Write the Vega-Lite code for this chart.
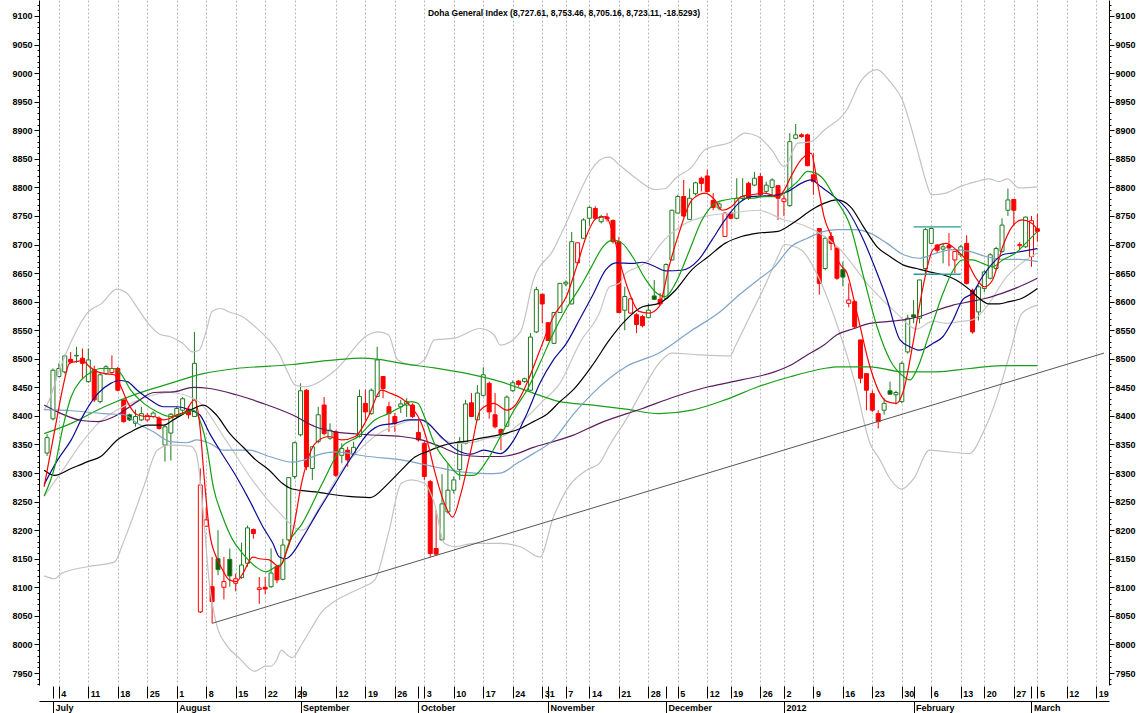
{
"$schema": "https://vega.github.io/schema/vega-lite/v6.json",
"width": 1070, "height": 685,
"autosize": {"type": "none"},
"padding": {"left": 39, "top": 0, "right": 35, "bottom": 28},
"background": "white",
"config": {"view": {"stroke": null}, "font": "Liberation Sans, Arial, sans-serif"},
"title": {"text": "Doha General Index (8,727.61, 8,753.46, 8,705.16, 8,723.11, -18.5293)", "anchor": "middle", "frame": "group", "baseline": "top", "offset": -17, "dx": -10, "fontSize": 8.5, "fontWeight": "bold", "font": "Liberation Sans, Arial, sans-serif", "color": "#000"},
"datasets": {
"candles": [
{"t":0,"o":8335,"h":8368,"l":8330,"c":8362},{"t":1,"o":8395,"h":8483,"l":8392,"c":8480},{"t":2,"o":8469,"h":8492,"l":8468,"c":8483},{"t":3,"o":8477,"h":8507,"l":8474,"c":8505},{"t":4,"o":8499,"h":8512,"l":8492,"c":8494},{"t":5,"o":8505,"h":8521,"l":8493,"c":8506},{"t":6,"o":8501,"h":8518,"l":8464,"c":8492},{"t":7,"o":8460,"h":8518,"l":8458,"c":8498},{"t":8,"o":8481,"h":8488,"l":8424,"c":8428},{"t":9,"o":8425,"h":8475,"l":8422,"c":8472},
{"t":10,"o":8474,"h":8489,"l":8472,"c":8486},{"t":11,"o":8476,"h":8506,"l":8474,"c":8483},{"t":12,"o":8483,"h":8486,"l":8443,"c":8445},{"t":13,"o":8428,"h":8428,"l":8388,"c":8390},{"t":14,"o":8402,"h":8404,"l":8391,"c":8393},{"t":15,"o":8387,"h":8411,"l":8381,"c":8399},{"t":16,"o":8393,"h":8416,"l":8391,"c":8404},{"t":17,"o":8393,"h":8405,"l":8390,"c":8401},{"t":18,"o":8399,"h":8408,"l":8396,"c":8405},{"t":19,"o":8396,"h":8399,"l":8376,"c":8378},
{"t":20,"o":8349,"h":8385,"l":8320,"c":8381},{"t":21,"o":8370,"h":8405,"l":8322,"c":8403},{"t":22,"o":8399,"h":8416,"l":8397,"c":8413},{"t":23,"o":8410,"h":8433,"l":8404,"c":8430},{"t":24,"o":8412,"h":8417,"l":8395,"c":8402},{"t":25,"o":8399,"h":8547,"l":8398,"c":8492},{"t":26,"o":8057,"h":8308,"l":8055,"c":8279},{"t":27,"o":8207,"h":8241,"l":8206,"c":8218},{"t":28,"o":8101,"h":8153,"l":8037,"c":8075},{"t":29,"o":8150,"h":8200,"l":8121,"c":8131},
{"t":30,"o":8100,"h":8153,"l":8079,"c":8110},{"t":31,"o":8149,"h":8168,"l":8101,"c":8120},{"t":32,"o":8107,"h":8124,"l":8093,"c":8115},{"t":33,"o":8117,"h":8178,"l":8115,"c":8139},{"t":34,"o":8142,"h":8208,"l":8136,"c":8204},{"t":35,"o":8201,"h":8203,"l":8185,"c":8194},{"t":36,"o":8096,"h":8118,"l":8071,"c":8099},{"t":37,"o":8100,"h":8118,"l":8088,"c":8097},{"t":38,"o":8101,"h":8168,"l":8099,"c":8125},{"t":39,"o":8136,"h":8139,"l":8107,"c":8113},
{"t":40,"o":8114,"h":8185,"l":8112,"c":8174},{"t":41,"o":8183,"h":8293,"l":8180,"c":8292},{"t":42,"o":8294,"h":8355,"l":8290,"c":8353},{"t":43,"o":8367,"h":8457,"l":8364,"c":8444},{"t":44,"o":8445,"h":8447,"l":8305,"c":8311},{"t":45,"o":8308,"h":8346,"l":8288,"c":8346},{"t":46,"o":8355,"h":8416,"l":8352,"c":8402},{"t":47,"o":8419,"h":8433,"l":8366,"c":8369},{"t":48,"o":8361,"h":8387,"l":8358,"c":8375},{"t":49,"o":8372,"h":8375,"l":8293,"c":8296},
{"t":50,"o":8331,"h":8352,"l":8317,"c":8343},{"t":51,"o":8340,"h":8346,"l":8311,"c":8323},{"t":52,"o":8333,"h":8355,"l":8330,"c":8345},{"t":53,"o":8364,"h":8446,"l":8362,"c":8434},{"t":54,"o":8422,"h":8446,"l":8392,"c":8407},{"t":55,"o":8404,"h":8448,"l":8402,"c":8445},{"t":56,"o":8434,"h":8521,"l":8434,"c":8498},{"t":57,"o":8469,"h":8469,"l":8431,"c":8448},{"t":58,"o":8416,"h":8425,"l":8372,"c":8404},{"t":59,"o":8399,"h":8405,"l":8372,"c":8387},
{"t":60,"o":8416,"h":8428,"l":8405,"c":8421},{"t":61,"o":8419,"h":8431,"l":8398,"c":8425},{"t":62,"o":8419,"h":8422,"l":8396,"c":8399},{"t":63,"o":8371,"h":8393,"l":8355,"c":8358},{"t":64,"o":8352,"h":8355,"l":8288,"c":8294},{"t":65,"o":8285,"h":8288,"l":8153,"c":8159},{"t":66,"o":8168,"h":8235,"l":8156,"c":8158},{"t":67,"o":8183,"h":8298,"l":8182,"c":8246},{"t":68,"o":8232,"h":8317,"l":8229,"c":8270},{"t":69,"o":8270,"h":8294,"l":8264,"c":8288},
{"t":70,"o":8306,"h":8363,"l":8288,"c":8355},{"t":71,"o":8352,"h":8428,"l":8350,"c":8421},{"t":72,"o":8423,"h":8440,"l":8399,"c":8399},{"t":73,"o":8393,"h":8454,"l":8393,"c":8440},{"t":74,"o":8436,"h":8485,"l":8434,"c":8472},{"t":75,"o":8457,"h":8460,"l":8395,"c":8407},{"t":76,"o":8402,"h":8440,"l":8378,"c":8381},{"t":77,"o":8376,"h":8378,"l":8340,"c":8369},{"t":78,"o":8382,"h":8436,"l":8381,"c":8433},{"t":79,"o":8444,"h":8462,"l":8442,"c":8458},
{"t":80,"o":8461,"h":8463,"l":8451,"c":8455},{"t":81,"o":8460,"h":8467,"l":8458,"c":8465},{"t":82,"o":8445,"h":8545,"l":8444,"c":8538},{"t":83,"o":8547,"h":8626,"l":8545,"c":8621},{"t":84,"o":8613,"h":8613,"l":8562,"c":8596},{"t":85,"o":8563,"h":8564,"l":8531,"c":8532},{"t":86,"o":8527,"h":8582,"l":8526,"c":8581},{"t":87,"o":8581,"h":8633,"l":8580,"c":8632},{"t":88,"o":8631,"h":8637,"l":8627,"c":8634},{"t":89,"o":8596,"h":8722,"l":8595,"c":8705},
{"t":90,"o":8668,"h":8703,"l":8667,"c":8703},{"t":91,"o":8711,"h":8746,"l":8710,"c":8743},{"t":92,"o":8746,"h":8767,"l":8733,"c":8765},{"t":93,"o":8763,"h":8767,"l":8743,"c":8746},{"t":94,"o":8740,"h":8752,"l":8737,"c":8749},{"t":95,"o":8748,"h":8755,"l":8740,"c":8745},{"t":96,"o":8742,"h":8744,"l":8702,"c":8705},{"t":97,"o":8705,"h":8713,"l":8580,"c":8581},{"t":98,"o":8585,"h":8626,"l":8550,"c":8609},{"t":99,"o":8580,"h":8606,"l":8579,"c":8605},
{"t":100,"o":8577,"h":8580,"l":8545,"c":8560},{"t":101,"o":8574,"h":8577,"l":8555,"c":8558},{"t":102,"o":8572,"h":8597,"l":8571,"c":8585},{"t":103,"o":8610,"h":8638,"l":8603,"c":8604},{"t":104,"o":8604,"h":8615,"l":8593,"c":8596},{"t":105,"o":8606,"h":8667,"l":8604,"c":8665},{"t":106,"o":8673,"h":8761,"l":8672,"c":8760},{"t":107,"o":8755,"h":8787,"l":8755,"c":8784},{"t":108,"o":8784,"h":8813,"l":8748,"c":8750},{"t":109,"o":8744,"h":8798,"l":8743,"c":8781},
{"t":110,"o":8789,"h":8810,"l":8786,"c":8808},{"t":111,"o":8816,"h":8819,"l":8793,"c":8807},{"t":112,"o":8820,"h":8831,"l":8791,"c":8793},{"t":113,"o":8777,"h":8790,"l":8760,"c":8765},{"t":114,"o":8764,"h":8774,"l":8760,"c":8771},{"t":115,"o":8714,"h":8756,"l":8713,"c":8755},{"t":116,"o":8755,"h":8758,"l":8744,"c":8746},{"t":117,"o":8746,"h":8816,"l":8744,"c":8781},{"t":118,"o":8781,"h":8816,"l":8778,"c":8784},{"t":119,"o":8807,"h":8810,"l":8778,"c":8781},
{"t":120,"o":8804,"h":8827,"l":8802,"c":8816},{"t":121,"o":8819,"h":8825,"l":8784,"c":8787},{"t":122,"o":8793,"h":8810,"l":8790,"c":8804},{"t":123,"o":8800,"h":8816,"l":8784,"c":8813},{"t":124,"o":8803,"h":8804,"l":8743,"c":8781},{"t":125,"o":8775,"h":8787,"l":8750,"c":8780},{"t":126,"o":8768,"h":8895,"l":8766,"c":8880},{"t":127,"o":8886,"h":8911,"l":8884,"c":8892},{"t":128,"o":8892,"h":8895,"l":8887,"c":8889},{"t":129,"o":8892,"h":8894,"l":8837,"c":8838},
{"t":130,"o":8822,"h":8860,"l":8787,"c":8810},{"t":131,"o":8728,"h":8728,"l":8612,"c":8632},{"t":132,"o":8658,"h":8714,"l":8655,"c":8711},{"t":133,"o":8714,"h":8722,"l":8690,"c":8702},{"t":134,"o":8693,"h":8696,"l":8638,"c":8641},{"t":135,"o":8656,"h":8670,"l":8627,"c":8643},{"t":136,"o":8597,"h":8632,"l":8590,"c":8603},{"t":137,"o":8600,"h":8603,"l":8553,"c":8556},{"t":138,"o":8533,"h":8533,"l":8457,"c":8466},{"t":139,"o":8474,"h":8474,"l":8410,"c":8445},
{"t":140,"o":8439,"h":8445,"l":8407,"c":8410},{"t":141,"o":8404,"h":8410,"l":8378,"c":8390},{"t":142,"o":8410,"h":8431,"l":8402,"c":8422},{"t":143,"o":8444,"h":8460,"l":8437,"c":8438},{"t":144,"o":8437,"h":8444,"l":8420,"c":8441},{"t":145,"o":8425,"h":8495,"l":8422,"c":8492},{"t":146,"o":8512,"h":8577,"l":8509,"c":8571},{"t":147,"o":8577,"h":8603,"l":8562,"c":8573},{"t":148,"o":8571,"h":8638,"l":8562,"c":8638},{"t":149,"o":8658,"h":8729,"l":8646,"c":8726},
{"t":150,"o":8702,"h":8730,"l":8701,"c":8728},{"t":151,"o":8699,"h":8701,"l":8685,"c":8690},{"t":152,"o":8692,"h":8702,"l":8667,"c":8696},{"t":153,"o":8698,"h":8720,"l":8662,"c":8694},{"t":154,"o":8673,"h":8688,"l":8650,"c":8688},{"t":155,"o":8682,"h":8699,"l":8678,"c":8696},{"t":156,"o":8702,"h":8716,"l":8630,"c":8632},{"t":157,"o":8620,"h":8623,"l":8544,"c":8547},{"t":158,"o":8582,"h":8629,"l":8567,"c":8626},{"t":159,"o":8623,"h":8655,"l":8617,"c":8652},
{"t":160,"o":8641,"h":8685,"l":8639,"c":8682},{"t":161,"o":8658,"h":8696,"l":8655,"c":8693},{"t":162,"o":8688,"h":8746,"l":8685,"c":8734},{"t":163,"o":8760,"h":8798,"l":8750,"c":8778},{"t":164,"o":8779,"h":8779,"l":8734,"c":8760},{"t":165,"o":8698,"h":8704,"l":8692,"c":8700},{"t":166,"o":8696,"h":8749,"l":8694,"c":8748},{"t":167,"o":8679,"h":8750,"l":8661,"c":8741.64},{"t":168,"o":8727.61,"h":8753.46,"l":8705.16,"c":8723.11}
],
"lines": [
{"s":"bu","t":-0.5,"v":8410},{"s":"bu","t":0,"v":8419},{"s":"bu","t":2.3,"v":8486},{"s":"bu","t":4.5,"v":8539},{"s":"bu","t":7,"v":8582},{"s":"bu","t":9.3,"v":8597},{"s":"bu","t":11.8,"v":8622},{"s":"bu","t":13.5,"v":8615},{"s":"bu","t":15.2,"v":8591},{"s":"bu","t":17.4,"v":8559},{"s":"bu","t":19.1,"v":8543},{"s":"bu","t":20.8,"v":8539},{"s":"bu","t":23,"v":8527},{"s":"bu","t":24.7,"v":8512},{"s":"bu","t":25.8,"v":8515},{"s":"bu","t":26.9,"v":8545},{"s":"bu","t":28,"v":8583},{"s":"bu","t":29.5,"v":8588},{"s":"bu","t":30.9,"v":8582},{"s":"bu","t":33.1,"v":8574},{"s":"bu","t":35.3,"v":8556},{"s":"bu","t":37.6,"v":8533},{"s":"bu","t":39.3,"v":8510},{"s":"bu","t":40.9,"v":8475},{"s":"bu","t":42.1,"v":8454},{"s":"bu","t":43.7,"v":8451},{"s":"bu","t":48.9,"v":8480},{"s":"bu","t":54.5,"v":8542},{"s":"bu","t":56.2,"v":8547},{"s":"bu","t":57.9,"v":8542},{"s":"bu","t":59.5,"v":8498},{"s":"bu","t":62.3,"v":8489},{"s":"bu","t":64,"v":8498},{"s":"bu","t":65.7,"v":8533},{"s":"bu","t":69.1,"v":8536},{"s":"bu","t":73.5,"v":8553},{"s":"bu","t":75.8,"v":8542},{"s":"bu","t":76.9,"v":8524},{"s":"bu","t":80.3,"v":8547},{"s":"bu","t":82.5,"v":8638},{"s":"bu","t":85.9,"v":8691},{"s":"bu","t":87,"v":8714},{"s":"bu","t":94.3,"v":8851},{"s":"bu","t":95.4,"v":8853},{"s":"bu","t":97.1,"v":8839},{"s":"bu","t":99.9,"v":8816},{"s":"bu","t":103.2,"v":8796},{"s":"bu","t":104.9,"v":8798},{"s":"bu","t":106.6,"v":8816},{"s":"bu","t":109.4,"v":8836},{"s":"bu","t":111.6,"v":8866},{"s":"bu","t":116.1,"v":8880},{"s":"bu","t":118.4,"v":8895},{"s":"bu","t":120.6,"v":8889},{"s":"bu","t":122.9,"v":8866},{"s":"bu","t":125.1,"v":8836},{"s":"bu","t":127.3,"v":8877},{"s":"bu","t":129.6,"v":8880},{"s":"bu","t":131.8,"v":8900},{"s":"bu","t":135.7,"v":8936},{"s":"bu","t":138,"v":8985},{"s":"bu","t":140.8,"v":9006},{"s":"bu","t":143,"v":8985},{"s":"bu","t":145,"v":8955},{"s":"bu","t":147.5,"v":8871},{"s":"bu","t":149.2,"v":8807},{"s":"bu","t":150,"v":8787},{"s":"bu","t":152.5,"v":8790},{"s":"bu","t":154.8,"v":8801},{"s":"bu","t":157.6,"v":8810},{"s":"bu","t":159.8,"v":8815},{"s":"bu","t":161.5,"v":8810},{"s":"bu","t":162.9,"v":8815},{"s":"bu","t":164.9,"v":8799},{"s":"bu","t":168,"v":8801},
{"s":"bl","t":-0.5,"v":8120},{"s":"bl","t":1.3,"v":8115},{"s":"bl","t":2.4,"v":8124},{"s":"bl","t":6.8,"v":8136},{"s":"bl","t":11.4,"v":8144},{"s":"bl","t":13.1,"v":8183},{"s":"bl","t":16.4,"v":8276},{"s":"bl","t":18.7,"v":8340},{"s":"bl","t":20.9,"v":8349},{"s":"bl","t":24.3,"v":8347},{"s":"bl","t":25.3,"v":8335},{"s":"bl","t":26.5,"v":8230},{"s":"bl","t":27.5,"v":8110},{"s":"bl","t":28.7,"v":8037},{"s":"bl","t":30.5,"v":7998},{"s":"bl","t":32.7,"v":7975},{"s":"bl","t":35.2,"v":7953},{"s":"bl","t":37.1,"v":7962},{"s":"bl","t":38,"v":7962},{"s":"bl","t":38.8,"v":7970},{"s":"bl","t":39.8,"v":7990},{"s":"bl","t":40.8,"v":7981},{"s":"bl","t":41.6,"v":7977},{"s":"bl","t":43.3,"v":8002},{"s":"bl","t":45,"v":8031},{"s":"bl","t":46.6,"v":8057},{"s":"bl","t":48.3,"v":8072},{"s":"bl","t":51,"v":8088},{"s":"bl","t":53.5,"v":8100},{"s":"bl","t":55.6,"v":8113},{"s":"bl","t":57.9,"v":8194},{"s":"bl","t":60.1,"v":8282},{"s":"bl","t":61.8,"v":8288},{"s":"bl","t":64,"v":8282},{"s":"bl","t":65.7,"v":8247},{"s":"bl","t":67.4,"v":8177},{"s":"bl","t":69.1,"v":8171},{"s":"bl","t":72.4,"v":8177},{"s":"bl","t":76.9,"v":8177},{"s":"bl","t":80.3,"v":8171},{"s":"bl","t":83.6,"v":8153},{"s":"bl","t":85.9,"v":8223},{"s":"bl","t":88.1,"v":8270},{"s":"bl","t":91.5,"v":8305},{"s":"bl","t":93.7,"v":8317},{"s":"bl","t":95.5,"v":8350},{"s":"bl","t":98.2,"v":8393},{"s":"bl","t":101,"v":8445},{"s":"bl","t":103.8,"v":8492},{"s":"bl","t":106,"v":8510},{"s":"bl","t":110.5,"v":8507},{"s":"bl","t":115.9,"v":8505},{"s":"bl","t":116.7,"v":8521},{"s":"bl","t":119.5,"v":8580},{"s":"bl","t":121.7,"v":8626},{"s":"bl","t":124,"v":8679},{"s":"bl","t":125.1,"v":8700},{"s":"bl","t":128,"v":8690},{"s":"bl","t":131,"v":8640},{"s":"bl","t":134,"v":8560},{"s":"bl","t":137,"v":8460},{"s":"bl","t":139.6,"v":8352},{"s":"bl","t":141.3,"v":8323},{"s":"bl","t":143,"v":8290},{"s":"bl","t":145,"v":8272},{"s":"bl","t":147,"v":8290},{"s":"bl","t":149.7,"v":8340},{"s":"bl","t":152,"v":8338},{"s":"bl","t":156.5,"v":8334},{"s":"bl","t":158.7,"v":8369},{"s":"bl","t":161,"v":8428},{"s":"bl","t":163.2,"v":8504},{"s":"bl","t":165.4,"v":8580},{"s":"bl","t":168,"v":8594},
{"s":"bm","t":-0.5,"v":8259},{"s":"bm","t":3,"v":8310},{"s":"bm","t":6,"v":8355},{"s":"bm","t":9,"v":8390},{"s":"bm","t":11.8,"v":8410},{"s":"bm","t":16,"v":8430},{"s":"bm","t":20.8,"v":8441},{"s":"bm","t":25.3,"v":8428},{"s":"bm","t":30.3,"v":8358},{"s":"bm","t":34.8,"v":8288},{"s":"bm","t":39,"v":8235},{"s":"bm","t":43.3,"v":8200},{"s":"bm","t":46.6,"v":8247},{"s":"bm","t":50,"v":8305},{"s":"bm","t":53.4,"v":8345},{"s":"bm","t":56.7,"v":8372},{"s":"bm","t":60.1,"v":8387},{"s":"bm","t":62.3,"v":8393},{"s":"bm","t":64,"v":8393},{"s":"bm","t":65.7,"v":8375},{"s":"bm","t":67.3,"v":8358},{"s":"bm","t":69.7,"v":8352},{"s":"bm","t":72.4,"v":8354},{"s":"bm","t":74.7,"v":8361},{"s":"bm","t":76.9,"v":8363},{"s":"bm","t":80,"v":8385},{"s":"bm","t":84,"v":8425},{"s":"bm","t":87,"v":8457},{"s":"bm","t":90.5,"v":8530},{"s":"bm","t":93.7,"v":8580},{"s":"bm","t":95.4,"v":8626},{"s":"bm","t":97.1,"v":8632},{"s":"bm","t":98.2,"v":8650},{"s":"bm","t":100.4,"v":8661},{"s":"bm","t":102.1,"v":8673},{"s":"bm","t":104,"v":8700},{"s":"bm","t":108,"v":8735},{"s":"bm","t":112,"v":8750},{"s":"bm","t":116,"v":8755},{"s":"bm","t":120.6,"v":8760},{"s":"bm","t":125.1,"v":8743},{"s":"bm","t":128,"v":8735},{"s":"bm","t":131,"v":8720},{"s":"bm","t":134,"v":8697},{"s":"bm","t":139.6,"v":8626},{"s":"bm","t":144.1,"v":8580},{"s":"bm","t":147.5,"v":8552},{"s":"bm","t":150.3,"v":8566},{"s":"bm","t":152.5,"v":8562},{"s":"bm","t":154.8,"v":8565},{"s":"bm","t":157,"v":8568},{"s":"bm","t":159.8,"v":8597},{"s":"bm","t":162.5,"v":8640},{"s":"bm","t":165.4,"v":8668},{"s":"bm","t":168,"v":8685},
{"s":"m200","t":-0.5,"v":8369},{"s":"m200","t":4.1,"v":8387},{"s":"m200","t":9.7,"v":8416},{"s":"m200","t":15.3,"v":8439},{"s":"m200","t":20.9,"v":8457},{"s":"m200","t":26.5,"v":8474},{"s":"m200","t":32.1,"v":8483},{"s":"m200","t":37.7,"v":8487},{"s":"m200","t":41.6,"v":8490},{"s":"m200","t":43.3,"v":8492},{"s":"m200","t":48.9,"v":8498},{"s":"m200","t":53.4,"v":8501},{"s":"m200","t":56.2,"v":8499},{"s":"m200","t":60.1,"v":8492},{"s":"m200","t":65.7,"v":8484},{"s":"m200","t":71.3,"v":8474},{"s":"m200","t":76.9,"v":8460},{"s":"m200","t":82.5,"v":8440},{"s":"m200","t":87,"v":8425},{"s":"m200","t":92.6,"v":8419},{"s":"m200","t":98.2,"v":8412},{"s":"m200","t":103.8,"v":8404},{"s":"m200","t":109.4,"v":8410},{"s":"m200","t":115,"v":8428},{"s":"m200","t":120.6,"v":8451},{"s":"m200","t":126.2,"v":8469},{"s":"m200","t":131.8,"v":8483},{"s":"m200","t":134,"v":8486},{"s":"m200","t":139.6,"v":8486},{"s":"m200","t":145.3,"v":8477},{"s":"m200","t":150.9,"v":8477},{"s":"m200","t":156.5,"v":8483},{"s":"m200","t":162.1,"v":8488},{"s":"m200","t":168,"v":8488},
{"s":"m100","t":-0.5,"v":8419},{"s":"m100","t":2.4,"v":8404},{"s":"m100","t":5.8,"v":8392},{"s":"m100","t":8.6,"v":8390},{"s":"m100","t":11.4,"v":8399},{"s":"m100","t":15.3,"v":8425},{"s":"m100","t":18.1,"v":8441},{"s":"m100","t":21.4,"v":8442},{"s":"m100","t":24.8,"v":8450},{"s":"m100","t":27.6,"v":8448},{"s":"m100","t":32.1,"v":8437},{"s":"m100","t":36.6,"v":8422},{"s":"m100","t":41.6,"v":8402},{"s":"m100","t":45.5,"v":8381},{"s":"m100","t":48.9,"v":8372},{"s":"m100","t":54.5,"v":8367},{"s":"m100","t":60.1,"v":8364},{"s":"m100","t":63.5,"v":8358},{"s":"m100","t":66.8,"v":8346},{"s":"m100","t":70.2,"v":8332},{"s":"m100","t":73.6,"v":8329},{"s":"m100","t":76.9,"v":8329},{"s":"m100","t":79.7,"v":8334},{"s":"m100","t":82.5,"v":8345},{"s":"m100","t":85.9,"v":8355},{"s":"m100","t":89.2,"v":8366},{"s":"m100","t":93.7,"v":8387},{"s":"m100","t":101,"v":8413},{"s":"m100","t":106.6,"v":8434},{"s":"m100","t":112.2,"v":8451},{"s":"m100","t":117.8,"v":8463},{"s":"m100","t":123.4,"v":8477},{"s":"m100","t":126.2,"v":8489},{"s":"m100","t":129,"v":8507},{"s":"m100","t":131.8,"v":8524},{"s":"m100","t":134,"v":8542},{"s":"m100","t":136.9,"v":8553},{"s":"m100","t":139.6,"v":8562},{"s":"m100","t":142.5,"v":8565},{"s":"m100","t":145.3,"v":8568},{"s":"m100","t":148,"v":8574},{"s":"m100","t":150.9,"v":8585},{"s":"m100","t":153.7,"v":8594},{"s":"m100","t":156.5,"v":8600},{"s":"m100","t":159.3,"v":8606},{"s":"m100","t":162.1,"v":8615},{"s":"m100","t":164.9,"v":8626},{"s":"m100","t":168,"v":8641},
{"s":"m50","t":-0.5,"v":8411},{"s":"m50","t":4.1,"v":8409},{"s":"m50","t":9.7,"v":8404},{"s":"m50","t":13.1,"v":8402},{"s":"m50","t":15.3,"v":8387},{"s":"m50","t":18.1,"v":8372},{"s":"m50","t":20.9,"v":8355},{"s":"m50","t":23.7,"v":8353},{"s":"m50","t":25.4,"v":8358},{"s":"m50","t":27.6,"v":8352},{"s":"m50","t":29.9,"v":8340},{"s":"m50","t":34.3,"v":8340},{"s":"m50","t":37.7,"v":8329},{"s":"m50","t":41.6,"v":8319},{"s":"m50","t":43.3,"v":8322},{"s":"m50","t":46.7,"v":8334},{"s":"m50","t":48.9,"v":8337},{"s":"m50","t":54.5,"v":8329},{"s":"m50","t":60.1,"v":8323},{"s":"m50","t":65.7,"v":8311},{"s":"m50","t":70.2,"v":8302},{"s":"m50","t":74.7,"v":8299},{"s":"m50","t":76.9,"v":8300},{"s":"m50","t":79.7,"v":8317},{"s":"m50","t":82.5,"v":8334},{"s":"m50","t":85.9,"v":8358},{"s":"m50","t":89.2,"v":8402},{"s":"m50","t":92.6,"v":8440},{"s":"m50","t":98.2,"v":8486},{"s":"m50","t":103.8,"v":8510},{"s":"m50","t":109.4,"v":8550},{"s":"m50","t":113.9,"v":8580},{"s":"m50","t":117.8,"v":8615},{"s":"m50","t":120.6,"v":8638},{"s":"m50","t":123.4,"v":8661},{"s":"m50","t":126.2,"v":8696},{"s":"m50","t":129,"v":8711},{"s":"m50","t":131.8,"v":8723},{"s":"m50","t":134,"v":8726},{"s":"m50","t":136.9,"v":8726},{"s":"m50","t":139.6,"v":8720},{"s":"m50","t":142.5,"v":8702},{"s":"m50","t":145.3,"v":8682},{"s":"m50","t":148,"v":8676},{"s":"m50","t":150.9,"v":8685},{"s":"m50","t":153.7,"v":8691},{"s":"m50","t":156.5,"v":8688},{"s":"m50","t":159.3,"v":8679},{"s":"m50","t":162.1,"v":8674},{"s":"m50","t":164.9,"v":8674},{"s":"m50","t":168,"v":8670},
{"s":"m30","t":-0.5,"v":8305},{"s":"m30","t":1.3,"v":8296},{"s":"m30","t":4.1,"v":8308},{"s":"m30","t":6.9,"v":8320},{"s":"m30","t":9.1,"v":8329},{"s":"m30","t":11.9,"v":8358},{"s":"m30","t":14.2,"v":8372},{"s":"m30","t":17,"v":8384},{"s":"m30","t":19.8,"v":8384},{"s":"m30","t":21.4,"v":8393},{"s":"m30","t":24.3,"v":8410},{"s":"m30","t":26.5,"v":8419},{"s":"m30","t":28.7,"v":8402},{"s":"m30","t":31,"v":8369},{"s":"m30","t":33.2,"v":8346},{"s":"m30","t":35.4,"v":8323},{"s":"m30","t":37.7,"v":8305},{"s":"m30","t":39.9,"v":8282},{"s":"m30","t":41.6,"v":8272},{"s":"m30","t":45.5,"v":8267},{"s":"m30","t":51.1,"v":8259},{"s":"m30","t":54.8,"v":8257},{"s":"m30","t":57.9,"v":8282},{"s":"m30","t":60.1,"v":8305},{"s":"m30","t":62.4,"v":8328},{"s":"m30","t":64.6,"v":8338},{"s":"m30","t":66.8,"v":8347},{"s":"m30","t":69.1,"v":8353},{"s":"m30","t":71.3,"v":8356},{"s":"m30","t":73.6,"v":8361},{"s":"m30","t":75.8,"v":8365},{"s":"m30","t":78,"v":8370},{"s":"m30","t":80.3,"v":8378},{"s":"m30","t":82.5,"v":8390},{"s":"m30","t":84.8,"v":8403},{"s":"m30","t":87,"v":8425},{"s":"m30","t":89.2,"v":8445},{"s":"m30","t":92.6,"v":8490},{"s":"m30","t":95.4,"v":8533},{"s":"m30","t":98.2,"v":8568},{"s":"m30","t":101,"v":8591},{"s":"m30","t":103.8,"v":8597},{"s":"m30","t":106.6,"v":8620},{"s":"m30","t":109.4,"v":8656},{"s":"m30","t":112.2,"v":8679},{"s":"m30","t":115,"v":8702},{"s":"m30","t":117.8,"v":8714},{"s":"m30","t":120.6,"v":8720},{"s":"m30","t":124,"v":8723},{"s":"m30","t":125.1,"v":8728},{"s":"m30","t":127.3,"v":8743},{"s":"m30","t":129.6,"v":8760},{"s":"m30","t":131.8,"v":8772},{"s":"m30","t":134,"v":8778},{"s":"m30","t":136.3,"v":8766},{"s":"m30","t":138.5,"v":8731},{"s":"m30","t":140.8,"v":8696},{"s":"m30","t":143,"v":8679},{"s":"m30","t":145.3,"v":8664},{"s":"m30","t":147.5,"v":8658},{"s":"m30","t":149.7,"v":8652},{"s":"m30","t":152,"v":8647},{"s":"m30","t":154.2,"v":8638},{"s":"m30","t":156.5,"v":8621},{"s":"m30","t":158.1,"v":8606},{"s":"m30","t":159.8,"v":8596},{"s":"m30","t":161.5,"v":8596},{"s":"m30","t":163.2,"v":8600},{"s":"m30","t":165.4,"v":8606},{"s":"m30","t":168,"v":8623},
{"s":"m20","t":-0.5,"v":8280},{"s":"m20","t":1.8,"v":8323},{"s":"m20","t":4.1,"v":8358},{"s":"m20","t":6.3,"v":8404},{"s":"m20","t":8.6,"v":8439},{"s":"m20","t":10.8,"v":8457},{"s":"m20","t":12.2,"v":8462},{"s":"m20","t":13.6,"v":8460},{"s":"m20","t":15.3,"v":8445},{"s":"m20","t":17.5,"v":8428},{"s":"m20","t":19.8,"v":8416},{"s":"m20","t":22,"v":8416},{"s":"m20","t":24.3,"v":8410},{"s":"m20","t":25.9,"v":8402},{"s":"m20","t":27.6,"v":8369},{"s":"m20","t":29.3,"v":8340},{"s":"m20","t":32.1,"v":8294},{"s":"m20","t":34.3,"v":8253},{"s":"m20","t":36.6,"v":8206},{"s":"m20","t":38.3,"v":8177},{"s":"m20","t":39.4,"v":8153},{"s":"m20","t":40.5,"v":8150},{"s":"m20","t":41.6,"v":8159},{"s":"m20","t":43.3,"v":8186},{"s":"m20","t":46.1,"v":8235},{"s":"m20","t":48.9,"v":8282},{"s":"m20","t":51.7,"v":8329},{"s":"m20","t":54.5,"v":8370},{"s":"m20","t":56.7,"v":8384},{"s":"m20","t":59,"v":8387},{"s":"m20","t":61.2,"v":8393},{"s":"m20","t":63.5,"v":8393},{"s":"m20","t":64.6,"v":8387},{"s":"m20","t":66.8,"v":8364},{"s":"m20","t":69.6,"v":8340},{"s":"m20","t":71.9,"v":8333},{"s":"m20","t":74.1,"v":8340},{"s":"m20","t":76.9,"v":8334},{"s":"m20","t":79.2,"v":8358},{"s":"m20","t":81.4,"v":8404},{"s":"m20","t":83.6,"v":8457},{"s":"m20","t":85.9,"v":8498},{"s":"m20","t":88.1,"v":8527},{"s":"m20","t":90.4,"v":8570},{"s":"m20","t":92.6,"v":8612},{"s":"m20","t":94.8,"v":8656},{"s":"m20","t":96.5,"v":8668},{"s":"m20","t":99.3,"v":8667},{"s":"m20","t":101,"v":8669},{"s":"m20","t":103.2,"v":8661},{"s":"m20","t":104.9,"v":8654},{"s":"m20","t":107.7,"v":8655},{"s":"m20","t":110.5,"v":8673},{"s":"m20","t":112.8,"v":8708},{"s":"m20","t":115,"v":8743},{"s":"m20","t":117.3,"v":8772},{"s":"m20","t":119.5,"v":8784},{"s":"m20","t":121.7,"v":8785},{"s":"m20","t":124,"v":8787},{"s":"m20","t":125.7,"v":8793},{"s":"m20","t":127.9,"v":8807},{"s":"m20","t":129.6,"v":8813},{"s":"m20","t":131.3,"v":8801},{"s":"m20","t":133.5,"v":8784},{"s":"m20","t":135.8,"v":8760},{"s":"m20","t":138.5,"v":8708},{"s":"m20","t":140.8,"v":8650},{"s":"m20","t":142.5,"v":8603},{"s":"m20","t":144.7,"v":8533},{"s":"m20","t":146.4,"v":8521},{"s":"m20","t":148,"v":8515},{"s":"m20","t":150.3,"v":8527},{"s":"m20","t":152,"v":8539},{"s":"m20","t":153.7,"v":8568},{"s":"m20","t":155.3,"v":8603},{"s":"m20","t":157,"v":8615},{"s":"m20","t":158.7,"v":8644},{"s":"m20","t":160.4,"v":8667},{"s":"m20","t":162.1,"v":8682},{"s":"m20","t":163.7,"v":8685},{"s":"m20","t":165.4,"v":8688},{"s":"m20","t":168,"v":8693},
{"s":"m10","t":-0.5,"v":8260},{"s":"m10","t":1.3,"v":8311},{"s":"m10","t":2.7,"v":8381},{"s":"m10","t":4.1,"v":8434},{"s":"m10","t":5.8,"v":8463},{"s":"m10","t":7.5,"v":8477},{"s":"m10","t":9.1,"v":8483},{"s":"m10","t":11.4,"v":8483},{"s":"m10","t":12.5,"v":8474},{"s":"m10","t":14.2,"v":8445},{"s":"m10","t":16.4,"v":8422},{"s":"m10","t":18.7,"v":8407},{"s":"m10","t":20.9,"v":8399},{"s":"m10","t":23.1,"v":8404},{"s":"m10","t":24.8,"v":8410},{"s":"m10","t":25.9,"v":8393},{"s":"m10","t":27,"v":8352},{"s":"m10","t":28.2,"v":8276},{"s":"m10","t":29.8,"v":8223},{"s":"m10","t":31.5,"v":8183},{"s":"m10","t":33.2,"v":8159},{"s":"m10","t":35.4,"v":8136},{"s":"m10","t":37.1,"v":8127},{"s":"m10","t":38.8,"v":8136},{"s":"m10","t":39.9,"v":8142},{"s":"m10","t":41,"v":8177},{"s":"m10","t":43.3,"v":8212},{"s":"m10","t":46.7,"v":8282},{"s":"m10","t":50,"v":8346},{"s":"m10","t":52.8,"v":8364},{"s":"m10","t":55.6,"v":8393},{"s":"m10","t":57.9,"v":8404},{"s":"m10","t":60.1,"v":8416},{"s":"m10","t":61.8,"v":8425},{"s":"m10","t":62.9,"v":8422},{"s":"m10","t":64,"v":8399},{"s":"m10","t":65.7,"v":8352},{"s":"m10","t":68,"v":8317},{"s":"m10","t":70.2,"v":8296},{"s":"m10","t":72.4,"v":8296},{"s":"m10","t":74.7,"v":8323},{"s":"m10","t":76.9,"v":8364},{"s":"m10","t":79.2,"v":8410},{"s":"m10","t":81.4,"v":8445},{"s":"m10","t":83.6,"v":8492},{"s":"m10","t":85.9,"v":8545},{"s":"m10","t":88.1,"v":8588},{"s":"m10","t":90.4,"v":8625},{"s":"m10","t":92.3,"v":8660},{"s":"m10","t":94.3,"v":8696},{"s":"m10","t":96,"v":8708},{"s":"m10","t":97.6,"v":8702},{"s":"m10","t":99.3,"v":8679},{"s":"m10","t":101.6,"v":8638},{"s":"m10","t":103.2,"v":8617},{"s":"m10","t":104.9,"v":8609},{"s":"m10","t":106.6,"v":8632},{"s":"m10","t":108.8,"v":8685},{"s":"m10","t":111.1,"v":8743},{"s":"m10","t":113.3,"v":8772},{"s":"m10","t":115,"v":8778},{"s":"m10","t":117.3,"v":8781},{"s":"m10","t":119.5,"v":8781},{"s":"m10","t":121.7,"v":8784},{"s":"m10","t":124,"v":8784},{"s":"m10","t":125.7,"v":8796},{"s":"m10","t":127.3,"v":8810},{"s":"m10","t":129,"v":8828},{"s":"m10","t":130.4,"v":8825},{"s":"m10","t":131.8,"v":8813},{"s":"m10","t":133.5,"v":8784},{"s":"m10","t":136.3,"v":8731},{"s":"m10","t":138.5,"v":8644},{"s":"m10","t":140.8,"v":8556},{"s":"m10","t":143,"v":8498},{"s":"m10","t":145.3,"v":8469},{"s":"m10","t":146.4,"v":8463},{"s":"m10","t":147.5,"v":8480},{"s":"m10","t":149.7,"v":8545},{"s":"m10","t":152,"v":8615},{"s":"m10","t":153.7,"v":8655},{"s":"m10","t":155.3,"v":8673},{"s":"m10","t":157,"v":8673},{"s":"m10","t":158.7,"v":8667},{"s":"m10","t":160.4,"v":8661},{"s":"m10","t":162.1,"v":8673},{"s":"m10","t":164.3,"v":8685},{"s":"m10","t":166,"v":8702},{"s":"m10","t":168,"v":8723},
{"s":"m5","t":-0.5,"v":8276},{"s":"m5","t":1.3,"v":8375},{"s":"m5","t":2.7,"v":8451},{"s":"m5","t":3.8,"v":8492},{"s":"m5","t":4.9,"v":8495},{"s":"m5","t":6,"v":8497},{"s":"m5","t":7.2,"v":8486},{"s":"m5","t":8.6,"v":8477},{"s":"m5","t":9.7,"v":8474},{"s":"m5","t":11.4,"v":8472},{"s":"m5","t":12.5,"v":8452},{"s":"m5","t":13.6,"v":8425},{"s":"m5","t":15.3,"v":8402},{"s":"m5","t":16.9,"v":8399},{"s":"m5","t":18.1,"v":8399},{"s":"m5","t":19.8,"v":8393},{"s":"m5","t":20.9,"v":8396},{"s":"m5","t":22,"v":8402},{"s":"m5","t":23.4,"v":8407},{"s":"m5","t":25,"v":8428},{"s":"m5","t":26,"v":8375},{"s":"m5","t":26.5,"v":8311},{"s":"m5","t":27.6,"v":8194},{"s":"m5","t":28.7,"v":8153},{"s":"m5","t":29.8,"v":8130},{"s":"m5","t":30.9,"v":8113},{"s":"m5","t":32.1,"v":8110},{"s":"m5","t":33.2,"v":8124},{"s":"m5","t":34.9,"v":8153},{"s":"m5","t":36,"v":8150},{"s":"m5","t":37.7,"v":8148},{"s":"m5","t":39.4,"v":8136},{"s":"m5","t":40.5,"v":8159},{"s":"m5","t":41.6,"v":8194},{"s":"m5","t":43.3,"v":8288},{"s":"m5","t":45.5,"v":8352},{"s":"m5","t":47.8,"v":8364},{"s":"m5","t":50,"v":8358},{"s":"m5","t":52.3,"v":8364},{"s":"m5","t":54.5,"v":8399},{"s":"m5","t":56.7,"v":8445},{"s":"m5","t":58.4,"v":8439},{"s":"m5","t":60.1,"v":8431},{"s":"m5","t":61.8,"v":8416},{"s":"m5","t":63.5,"v":8387},{"s":"m5","t":64.6,"v":8352},{"s":"m5","t":65.7,"v":8305},{"s":"m5","t":67.4,"v":8247},{"s":"m5","t":68.8,"v":8223},{"s":"m5","t":70.2,"v":8264},{"s":"m5","t":71.9,"v":8340},{"s":"m5","t":73.5,"v":8410},{"s":"m5","t":75.8,"v":8422},{"s":"m5","t":78,"v":8410},{"s":"m5","t":79.2,"v":8416},{"s":"m5","t":81.4,"v":8457},{"s":"m5","t":83.6,"v":8515},{"s":"m5","t":85.9,"v":8574},{"s":"m5","t":88.1,"v":8609},{"s":"m5","t":89.8,"v":8660},{"s":"m5","t":91.5,"v":8715},{"s":"m5","t":93.2,"v":8746},{"s":"m5","t":94.8,"v":8749},{"s":"m5","t":96,"v":8720},{"s":"m5","t":97.4,"v":8661},{"s":"m5","t":98.8,"v":8615},{"s":"m5","t":100.4,"v":8583},{"s":"m5","t":102.1,"v":8580},{"s":"m5","t":103.8,"v":8591},{"s":"m5","t":105.5,"v":8661},{"s":"m5","t":107.2,"v":8720},{"s":"m5","t":109.4,"v":8778},{"s":"m5","t":111.6,"v":8790},{"s":"m5","t":113.3,"v":8778},{"s":"m5","t":114.5,"v":8760},{"s":"m5","t":116.1,"v":8766},{"s":"m5","t":117.8,"v":8784},{"s":"m5","t":119.5,"v":8787},{"s":"m5","t":121.7,"v":8790},{"s":"m5","t":124,"v":8784},{"s":"m5","t":125.1,"v":8796},{"s":"m5","t":126.2,"v":8819},{"s":"m5","t":127.9,"v":8848},{"s":"m5","t":129.6,"v":8860},{"s":"m5","t":130.7,"v":8807},{"s":"m5","t":131.8,"v":8749},{"s":"m5","t":133.5,"v":8702},{"s":"m5","t":134.3,"v":8670},{"s":"m5","t":135.7,"v":8650},{"s":"m5","t":137.4,"v":8580},{"s":"m5","t":139.6,"v":8486},{"s":"m5","t":141.3,"v":8439},{"s":"m5","t":142.5,"v":8425},{"s":"m5","t":144.1,"v":8422},{"s":"m5","t":145.3,"v":8445},{"s":"m5","t":147,"v":8533},{"s":"m5","t":148.6,"v":8626},{"s":"m5","t":150.3,"v":8691},{"s":"m5","t":152.5,"v":8702},{"s":"m5","t":154.2,"v":8691},{"s":"m5","t":155.9,"v":8673},{"s":"m5","t":157.6,"v":8641},{"s":"m5","t":159,"v":8626},{"s":"m5","t":160.4,"v":8638},{"s":"m5","t":162.1,"v":8696},{"s":"m5","t":163.7,"v":8731},{"s":"m5","t":165.4,"v":8743},{"s":"m5","t":167.1,"v":8737},{"s":"m5","t":168,"v":8726}
],
"trend": [{"t":28,"v":8037},{"t":179.3,"v":8510}],
"teal": [{"t1":147,"t2":155,"v":8731},{"t1":147,"t2":155,"v":8648}]
},
"layer": [
{
"data": {"name": "candles"},
"transform": [{"window": [{"op": "lag", "field": "c", "as": "prev"}], "sort": [{"field": "t"}]}],
"mark": {"type": "rule", "strokeWidth": 1},
"encoding": {
"x": {"field": "t", "type": "quantitative", "scale": {"domain": [-0.52, 179.3], "nice": false, "zero": false},
"axis": {"orient": "bottom", "values": [2,7,12,17,22,27,32,37,42,49,54,59,64,69,74,79,84,88,92,97,102,107,112,116,121,125,130,135,140,145,150,155,159,164,168,173,178],
"labelExpr": "['4','11','18','25','1','8','15','22','29','12','19','26','3','10','17','24','31','7','14','21','28','5','12','19','26','2','9','16','23','30','6','13','20','27','5','12','19'][indexof([2,7,12,17,22,27,32,37,42,49,54,59,64,69,74,79,84,88,92,97,102,107,112,116,121,125,130,135,140,145,150,155,159,164,168,173,178], datum.value)]",
"grid": true, "gridColor": "#b9b9b9", "gridDash": [2, 2], "gridWidth": 1, "domain": false, "ticks": true, "tickSize": 12, "tickColor": "#000", "tickWidth": 1, "offset": 1,
"labelAlign": "left", "labelBaseline": "top", "labelPadding": -9, "labelOffset": 2, "labelFontSize": 9, "labelFontWeight": "bold", "labelColor": "#000", "labelOverlap": false, "labelFlush": false, "labelBound": false, "title": null}},
"y": {"field": "l", "type": "quantitative", "scale": {"domain": [7929, 9128], "nice": false, "zero": false},
"axis": {"orient": "left", "values": [7950,8000,8050,8100,8150,8200,8250,8300,8350,8400,8450,8500,8550,8600,8650,8700,8750,8800,8850,8900,8950,9000,9050,9100], "format": "d", "grid": false, "domain": true, "domainColor": "#000", "tickSize": 5, "tickColor": "#000", "labelPadding": 2, "labelFontSize": 9, "labelFontWeight": "bold", "labelColor": "#000", "labelOverlap": false, "labelFlush": false, "title": null}},
"y2": {"field": "h"},
"stroke": {"condition": {"test": "datum.prev == null || datum.c >= datum.prev", "value": "#1f7a1f"}, "value": "#ff0000"}
}
},
{
"data": {"name": "candles"},
"transform": [{"window": [{"op": "lag", "field": "c", "as": "prev"}], "sort": [{"field": "t"}]}],
"mark": {"type": "bar", "width": 4, "strokeWidth": 1},
"encoding": {
"x": {"field": "t", "type": "quantitative", "scale": {"domain": [-0.52, 179.3], "nice": false, "zero": false},
"axis": {"orient": "bottom", "values": [1,22,43,63,85,105,125,147,167],
"labelExpr": "['July','August','September','October','November','December','2012','February','March'][indexof([1,22,43,63,85,105,125,147,167], datum.value)]",
"grid": false, "domain": true, "domainColor": "#000", "domainWidth": 1.2, "ticks": true, "tickSize": 12, "tickColor": "#000", "offset": 16,
"labelAlign": "left", "labelBaseline": "top", "labelPadding": -10, "labelOffset": 2, "labelFontSize": 9, "labelFontWeight": "bold", "labelColor": "#000", "labelOverlap": false, "labelFlush": false, "labelBound": false, "title": null}},
"y": {"field": "o", "type": "quantitative", "scale": {"domain": [7929, 9128], "nice": false, "zero": false},
"axis": {"orient": "left", "values": [7930,7940,7960,7970,7980,7990,8010,8020,8030,8040,8060,8070,8080,8090,8110,8120,8130,8140,8160,8170,8180,8190,8210,8220,8230,8240,8260,8270,8280,8290,8310,8320,8330,8340,8360,8370,8380,8390,8410,8420,8430,8440,8460,8470,8480,8490,8510,8520,8530,8540,8560,8570,8580,8590,8610,8620,8630,8640,8660,8670,8680,8690,8710,8720,8730,8740,8760,8770,8780,8790,8810,8820,8830,8840,8860,8870,8880,8890,8910,8920,8930,8940,8960,8970,8980,8990,9010,9020,9030,9040,9060,9070,9080,9090,9110,9120], "labels": false, "domain": false, "grid": false, "tickSize": 2, "tickColor": "#000", "title": null}},
"y2": {"field": "c"},
"stroke": {"condition": {"test": "datum.prev == null || datum.c >= datum.prev", "value": "#1f7a1f"}, "value": "#ff0000"},
"fill": {"condition": [{"test": "datum.c >= datum.o", "value": "#ffffff"}, {"test": "datum.prev == null || datum.c >= datum.prev", "value": "#0b5e0b"}], "value": "#ff0000"}
}
},
{
"data": {"name": "lines"},
"mark": {"type": "line", "interpolate": "monotone"},
"encoding": {
"x": {"field": "t", "type": "quantitative", "scale": {"domain": [-0.52, 179.3], "nice": false, "zero": false},
"axis": {"orient": "bottom", "values": [1,22,43,63,85,105,125,147,167], "labels": false, "grid": false, "domain": false, "ticks": true, "tickSize": 12, "tickColor": "#000", "offset": 1, "title": null}},
"y": {"field": "v", "type": "quantitative", "scale": {"domain": [7929, 9128], "nice": false, "zero": false},
"axis": {"orient": "right", "values": [7950,8000,8050,8100,8150,8200,8250,8300,8350,8400,8450,8500,8550,8600,8650,8700,8750,8800,8850,8900,8950,9000,9050,9100], "format": "d", "grid": false, "domain": true, "domainColor": "#000", "tickSize": 5, "tickColor": "#000", "labelPadding": 1, "labelFontSize": 9, "labelFontWeight": "bold", "labelColor": "#000", "labelOverlap": false, "labelFlush": false, "title": null}},
"detail": {"field": "s"},
"color": {"field": "s", "type": "nominal", "legend": null, "scale": {"domain": ["bu","bl","bm","m200","m100","m50","m30","m20","m10","m5"], "range": ["#c3c3c3","#c3c3c3","#c8c8c8","#1a9e1a","#5a1c5e","#7ea3c9","#000000","#0c0c94","#12a012","#ff0000"]}},
"strokeWidth": {"field": "s", "type": "nominal", "legend": null, "scale": {"domain": ["bu","bl","bm","m200","m100","m50","m30","m20","m10","m5"], "range": [1.2,1.2,1.1,2,2,1.8,1.2,1,1,1]}}
}
},
{
"data": {"name": "trend"},
"mark": {"type": "line", "color": "#555555", "strokeWidth": 1},
"encoding": {
"x": {"field": "t", "type": "quantitative", "scale": {"domain": [-0.52, 179.3], "nice": false, "zero": false}, "axis": null},
"y": {"field": "v", "type": "quantitative", "scale": {"domain": [7929, 9128], "nice": false, "zero": false},
"axis": {"orient": "right", "values": [7930,7940,7960,7970,7980,7990,8010,8020,8030,8040,8060,8070,8080,8090,8110,8120,8130,8140,8160,8170,8180,8190,8210,8220,8230,8240,8260,8270,8280,8290,8310,8320,8330,8340,8360,8370,8380,8390,8410,8420,8430,8440,8460,8470,8480,8490,8510,8520,8530,8540,8560,8570,8580,8590,8610,8620,8630,8640,8660,8670,8680,8690,8710,8720,8730,8740,8760,8770,8780,8790,8810,8820,8830,8840,8860,8870,8880,8890,8910,8920,8930,8940,8960,8970,8980,8990,9010,9020,9030,9040,9060,9070,9080,9090,9110,9120], "labels": false, "domain": false, "grid": false, "tickSize": 2, "tickColor": "#000", "title": null}}
}
},
{
"mark": {"type": "rule", "color": "#555555", "strokeWidth": 1, "strokeDash": [3, 2]},
"encoding": {"y": {"datum": 8800, "type": "quantitative", "scale": {"domain": [7929, 9128], "nice": false, "zero": false}, "axis": null}}
},
{
"data": {"name": "teal"},
"mark": {"type": "rule", "color": "#2b9a9a", "strokeWidth": 1.3},
"encoding": {
"x": {"field": "t1", "type": "quantitative", "scale": {"domain": [-0.52, 179.3], "nice": false, "zero": false}, "axis": null},
"x2": {"field": "t2"},
"y": {"field": "v", "type": "quantitative", "scale": {"domain": [7929, 9128], "nice": false, "zero": false}, "axis": null}
}
}
],
"resolve": {"axis": {"x": "independent", "y": "independent"}}
}
